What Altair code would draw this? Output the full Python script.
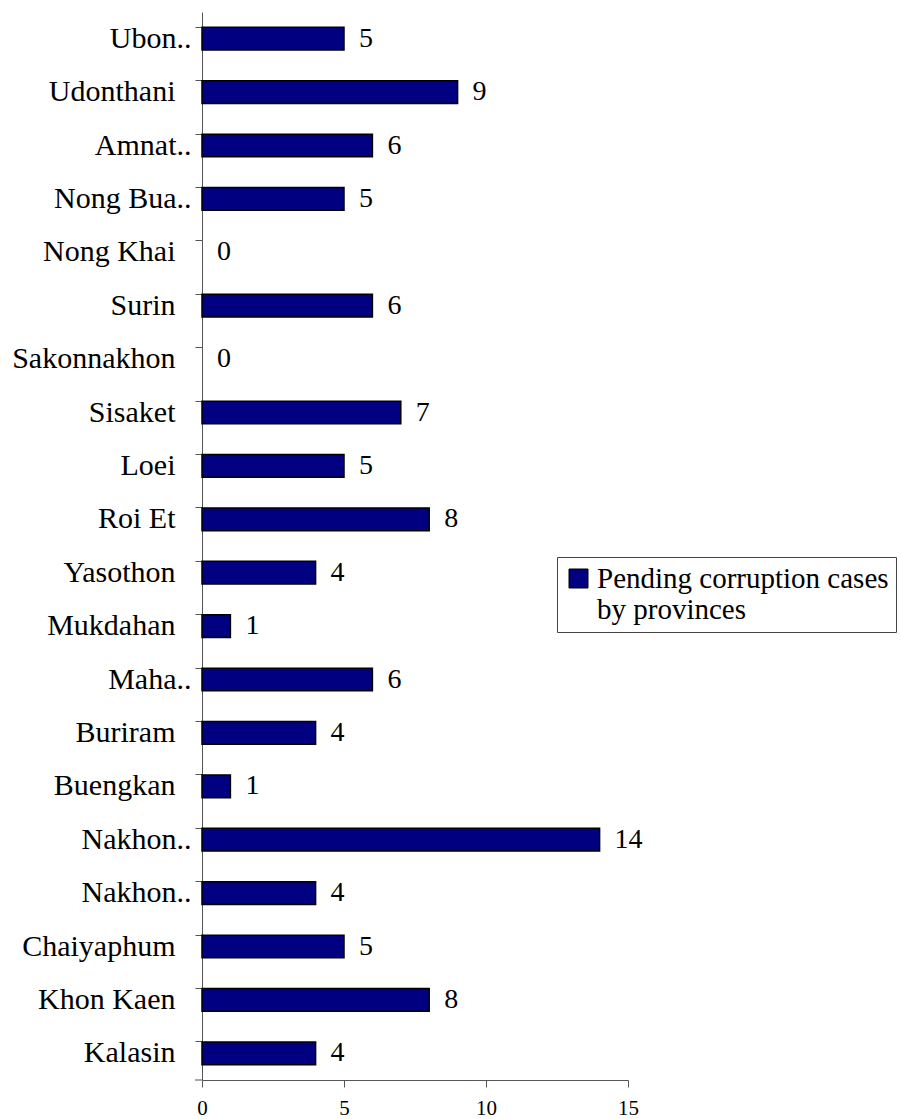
import altair as alt
import pandas as pd
import json

provinces = ["Ubon Ratchathani", "Udonthani", "Amnat Charoen", "Nong Bua Lamphu", "Nong Khai",
             "Surin", "Sakonnakhon", "Sisaket", "Loei", "Roi Et", "Yasothon", "Mukdahan",
             "Maha Sarakham", "Buriram", "Buengkan", "Nakhon Ratchasima", "Nakhon Phanom",
             "Chaiyaphum", "Khon Kaen", "Kalasin"]
tick_labels = ["Ubon..", "Udonthani", "Amnat..", "Nong Bua..", "Nong Khai",
               "Surin", "Sakonnakhon", "Sisaket", "Loei", "Roi Et", "Yasothon", "Mukdahan",
               "Maha..", "Buriram", "Buengkan", "Nakhon..", "Nakhon..",
               "Chaiyaphum", "Khon Kaen", "Kalasin"]
cases = [5, 9, 6, 5, 0, 6, 0, 7, 5, 8, 4, 1, 6, 4, 1, 14, 4, 5, 8, 4]
series_name = "Pending corruption cases by provinces"
legend_lines = ["Pending corruption cases", "by provinces"]
x_ticks = [0, 5, 10, 15]

df = pd.DataFrame({"province": provinces, "cases": cases, "series": series_name})

FONT = "'Liberation Serif', 'Times New Roman', Times, serif"
W, H = 426, 1068


def js(lst):
    return json.dumps(lst).replace('"', "'")


label_expr = js(tick_labels) + "[indexof(" + js(provinces) + ", datum.value)]"
truncated = [p for p, t in zip(provinces, tick_labels) if t.endswith("..")]

y_enc = alt.Y("province:N", sort=provinces,
              scale=alt.Scale(paddingInner=0.575, paddingOuter=0.2875),
              axis=alt.Axis(title=None, bandPosition=0, labelExpr=label_expr,
                            labelFont=FONT, labelFontSize=30, labelColor="black",
                            labelPadding=alt.condition(
                                "indexof(" + js(truncated) + ", datum.value) >= 0",
                                alt.value(4), alt.value(20)),
                            tickSize=7, tickColor="#555",
                            domainColor="#555", labelLimit=300, grid=False))
x_enc = alt.X("cases:Q", scale=alt.Scale(domain=[0, 15], nice=False),
              axis=alt.Axis(title=None, values=x_ticks, grid=False, labelFont=FONT,
                            labelFontSize=21, labelColor="black", tickSize=7,
                            tickColor="#555", domainColor="#555", labelPadding=10,
                            labelFlush=False))

bars = alt.Chart(df).mark_bar(stroke="black").encode(
    y=y_enc, x=x_enc,
    strokeWidth=alt.condition("datum.cases > 0", alt.value(1.5), alt.value(0)),
    color=alt.Color("series:N", scale=alt.Scale(range=["#000080"]),
                    legend=alt.Legend(title=None, orient="none", legendX=355, legendY=545,
                                      strokeColor="#444", fillColor="white", padding=7,
                                      cornerRadius=0, symbolType="square", symbolSize=361,
                                      symbolStrokeColor="black", symbolStrokeWidth=1,
                                      labelFont=FONT, labelFontSize=29, labelColor="black",
                                      labelLimit=500, labelOffset=4,
                                      labelExpr=js(legend_lines)))
)

texts = alt.Chart(df).mark_text(align="left", baseline="middle", dx=15, font=FONT,
                                fontSize=28, color="black").encode(
    y=alt.Y("province:N", sort=provinces), x=alt.X("cases:Q"),
    text="cases:Q")

bottom_tick = alt.Chart(df.head(1)).mark_rule(color="#555").encode(
    x=alt.value(-7), x2=alt.value(0), y=alt.value(H))

chart = alt.layer(bars, texts, bottom_tick).properties(
    width=W, height=H,
    autosize=alt.AutoSizeParams(type="none"),
    padding={"left": 202, "top": 12, "right": 273, "bottom": 39},
).configure(background="white").configure_view(strokeWidth=0, stroke="transparent").configure_axis(grid=False)

chart.save("out.html", embed_options={"renderer": "svg", "actions": False})
